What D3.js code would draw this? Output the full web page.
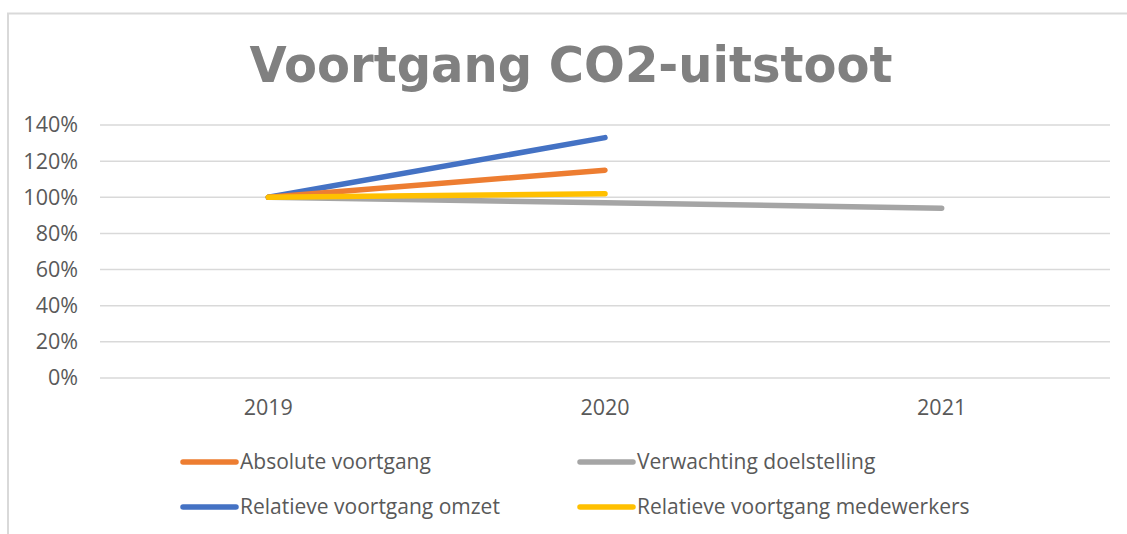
<!DOCTYPE html>
<html>
<head>
<meta charset="utf-8">
<script src="https://cdn.jsdelivr.net/npm/d3@7"></script>
<style>
  body { margin: 0; background: #fff; }
  text { font-family: "Open Sans", sans-serif; fill: #595959; }
</style>
</head>
<body>
<script>
const years = ["2019", "2020", "2021"];
const absoluteVoortgang = [1.00, 1.15, null];
const verwachtingDoelstelling = [1.00, 0.97, 0.94];
const relatiefOmzet = [1.00, 1.33, null];
const relatiefMedewerkers = [1.00, 1.02, null];
const yTicks = [0, 0.2, 0.4, 0.6, 0.8, 1.0, 1.2, 1.4];

const series = [
  { name: "Absolute voortgang", values: absoluteVoortgang, color: "#ED7D31" },
  { name: "Verwachting doelstelling", values: verwachtingDoelstelling, color: "#A5A5A5" },
  { name: "Relatieve voortgang omzet", values: relatiefOmzet, color: "#4472C4" },
  { name: "Relatieve voortgang medewerkers", values: relatiefMedewerkers, color: "#FFC000" }
];

const width = 1127, height = 534;
const svg = d3.select("body").append("svg")
  .attr("width", width).attr("height", height);

// chart border (only top and left visible)
svg.append("path")
  .attr("d", "M8,534 V13.5 H1127")
  .attr("fill", "none").attr("stroke", "#d9d9d9").attr("stroke-width", 2);

svg.append("text")
  .attr("x", 571).attr("y", 82)
  .attr("text-anchor", "middle")
  .attr("textLength", 643).attr("lengthAdjust", "spacingAndGlyphs")
  .style("font-family", "'DejaVu Sans', sans-serif")
  .style("font-weight", "bold").style("font-size", "50px")
  .style("fill", "#808080")
  .text("Voortgang CO2-uitstoot");

const x = d3.scaleBand().domain(years).range([100, 1110]);
const y = d3.scaleLinear().domain([0, 1.4]).range([378, 125]);

// gridlines
svg.append("g").selectAll("line").data(yTicks).enter().append("line")
  .attr("x1", 100).attr("x2", 1110)
  .attr("y1", d => y(d)).attr("y2", d => y(d))
  .attr("stroke", "#d9d9d9").attr("stroke-width", 1.5);

const yAxis = svg.append("g").attr("transform", "translate(100,0)")
  .call(d3.axisLeft(y).tickValues(yTicks).tickFormat(d3.format(".0%")).tickSize(0).tickPadding(22));
yAxis.select(".domain").remove();
yAxis.selectAll("text").style("font-size", "21.5px").attr("fill", "#595959");

const xAxis = svg.append("g").attr("transform", "translate(0,378)")
  .call(d3.axisBottom(x).tickSize(0).tickPadding(22));
xAxis.select(".domain").remove();
xAxis.selectAll("text").style("font-size", "21.5px").attr("fill", "#595959");

const line = d3.line()
  .defined(d => d.v != null)
  .x(d => x(d.year) + x.bandwidth() / 2)
  .y(d => y(d.v));

// draw order so blue/orange sit under yellow, gray at bottom
const drawOrder = [1, 2, 0, 3];
drawOrder.forEach(i => {
  const s = series[i];
  svg.append("path")
    .datum(years.map((yr, j) => ({ year: yr, v: s.values[j] })))
    .attr("d", line)
    .attr("fill", "none")
    .attr("stroke", s.color)
    .attr("stroke-width", 5.5)
    .attr("stroke-linecap", "round")
    .attr("stroke-linejoin", "round");
});

// legend
const legend = svg.append("g");
series.forEach((s, i) => {
  const lx = 183 + (i % 2) * 397;
  const ly = 462 + Math.floor(i / 2) * 45;
  legend.append("line")
    .attr("x1", lx).attr("x2", lx + 53)
    .attr("y1", ly).attr("y2", ly)
    .attr("stroke", s.color).attr("stroke-width", 5.5)
    .attr("stroke-linecap", "round");
  legend.append("text")
    .attr("x", lx + 57).attr("y", ly)
    .attr("dy", "0.35em")
    .style("font-size", "21px")
    .text(s.name);
});
</script>
</body>
</html>
